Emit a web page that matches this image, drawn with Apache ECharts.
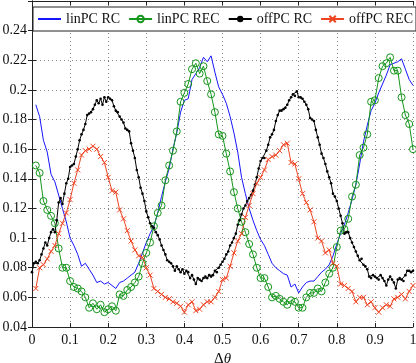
<!DOCTYPE html>
<html>
<head>
<meta charset="utf-8">
<script src="https://cdn.jsdelivr.net/npm/echarts@6/dist/echarts.min.js"></script>
<style>
html,body{margin:0;padding:0;background:#fff;}
#chart{width:416px;height:363px;}
</style>
</head>
<body>
<div id="chart"></div>
<script>
// x grids (sampling of the curves)
const xStart100 = 0.01, xStep100 = 0.01;   // linPC RC, linPC REC, offPC REC
const xStart200 = 0.0,  xStep200 = 0.005;  // offPC RC

const seriesNames = ['linPC RC', 'linPC REC', 'offPC RC', 'offPC REC'];

const linPC_RC = [
 0.190,0.182,0.166,0.158,0.143,0.138,0.129,0.120,0.111,0.100,
 0.095,0.089,0.081,0.083,0.079,0.075,0.070,0.071,0.069,0.070,
 0.068,0.066,0.070,0.071,0.073,0.075,0.077,0.083,0.090,0.097,
 0.103,0.108,0.117,0.128,0.138,0.147,0.160,0.171,0.185,0.193,
 0.194,0.207,0.211,0.215,0.222,0.219,0.223,0.212,0.202,0.197,
 0.191,0.182,0.171,0.158,0.141,0.130,0.120,0.112,0.105,0.099,
 0.095,0.089,0.083,0.080,0.078,0.076,0.075,0.067,0.069,0.063,
 0.067,0.070,0.071,0.071,0.074,0.077,0.079,0.082,0.088,0.096,
 0.103,0.109,0.117,0.126,0.136,0.150,0.165,0.176,0.186,0.191,
 0.198,0.204,0.210,0.217,0.218,0.219,0.221,0.214,0.207,0.203
];

const linPC_REC = [
 0.149,0.144,0.125,0.119,0.115,0.110,0.093,0.080,0.080,0.071,
 0.067,0.066,0.064,0.060,0.053,0.056,0.052,0.055,0.050,0.052,
 0.054,0.051,0.062,0.061,0.065,0.067,0.070,0.074,0.083,0.090,
 0.097,0.108,0.117,0.122,0.139,0.149,0.159,0.172,0.192,0.198,
 0.204,0.214,0.218,0.211,0.216,0.206,0.197,0.185,0.170,0.169,
 0.157,0.145,0.131,0.120,0.111,0.104,0.096,0.089,0.080,0.073,
 0.073,0.067,0.060,0.061,0.059,0.057,0.055,0.058,0.057,0.053,
 0.053,0.060,0.063,0.063,0.066,0.064,0.070,0.076,0.080,0.094,
 0.105,0.106,0.113,0.128,0.136,0.156,0.161,0.170,0.192,0.193,
 0.208,0.216,0.218,0.222,0.213,0.213,0.195,0.183,0.177,0.160
];

const offPC_RC = [
 0.077,0.083,0.084,0.083,0.085,0.089,0.093,0.097,0.095,0.100,
 0.104,0.106,0.104,0.112,0.124,0.127,0.123,0.130,0.137,0.140,
 0.148,0.149,0.150,0.155,0.160,0.166,0.170,0.173,0.177,0.183,
 0.184,0.185,0.187,0.190,0.193,0.191,0.194,0.190,0.195,0.192,
 0.195,0.194,0.193,0.189,0.186,0.185,0.182,0.180,0.178,0.174,
 0.173,0.172,0.164,0.159,0.154,0.146,0.141,0.134,0.130,0.125,
 0.118,0.114,0.110,0.108,0.107,0.104,0.102,0.099,0.095,0.092,
 0.089,0.085,0.084,0.083,0.081,0.078,0.081,0.079,0.077,0.079,
 0.076,0.078,0.077,0.073,0.075,0.072,0.069,0.073,0.072,0.071,
 0.073,0.074,0.073,0.075,0.074,0.075,0.078,0.077,0.080,0.082,
 0.084,0.086,0.089,0.091,0.095,0.097,0.100,0.103,0.109,0.112,
 0.116,0.120,0.122,0.125,0.127,0.129,0.132,0.136,0.141,0.147,
 0.152,0.154,0.154,0.159,0.163,0.168,0.170,0.173,0.179,0.183,
 0.186,0.186,0.187,0.188,0.190,0.193,0.195,0.197,0.196,0.199,
 0.195,0.195,0.194,0.192,0.190,0.187,0.181,0.180,0.179,0.173,
 0.168,0.163,0.157,0.154,0.150,0.145,0.141,0.137,0.130,0.128,
 0.125,0.120,0.115,0.110,0.103,0.104,0.104,0.100,0.097,0.094,
 0.091,0.088,0.085,0.086,0.082,0.081,0.079,0.074,0.073,0.075,
 0.074,0.073,0.072,0.075,0.073,0.071,0.068,0.072,0.074,0.072,
 0.070,0.066,0.072,0.073,0.072,0.071,0.075,0.078,0.078,0.077,
 0.078
];

const offPC_REC = [
 0.066,0.080,0.082,0.086,0.091,0.095,0.103,0.110,0.117,0.126,
 0.137,0.146,0.156,0.159,0.160,0.162,0.160,0.155,0.151,0.141,
 0.132,0.131,0.119,0.113,0.105,0.098,0.092,0.088,0.087,0.080,
 0.075,0.066,0.064,0.062,0.060,0.059,0.057,0.056,0.054,0.050,
 0.055,0.057,0.051,0.052,0.055,0.057,0.057,0.060,0.064,0.072,
 0.073,0.081,0.090,0.098,0.103,0.114,0.122,0.130,0.137,0.141,
 0.146,0.153,0.155,0.156,0.159,0.163,0.164,0.151,0.150,0.140,
 0.130,0.124,0.119,0.111,0.100,0.098,0.090,0.092,0.083,0.081,
 0.069,0.068,0.066,0.064,0.057,0.060,0.060,0.055,0.057,0.053,
 0.050,0.053,0.055,0.054,0.059,0.060,0.062,0.059,0.064,0.068
];

const xTickLabels = ['0','0.1','0.2','0.3','0.4','0.5','0.6','0.7','0.8','0.9','1'];
const yTickLabels = ['0.04','0.06','0.08','0.1','0.12','0.14','0.16','0.18','0.2','0.22','0.24'];

const colors = { blue:'#1515ff', green:'#16961c', black:'#000000', red:'#ee4422' };
const FONT = 'Liberation Serif';

function pairs(ys, x0, dx) {
  return ys.map((y, i) => [+(x0 + i * dx).toFixed(4), y]);
}

const chart = echarts.init(document.getElementById('chart'), null, {renderer:'canvas'});

const axisCommon = {
  axisLine:{show:true, lineStyle:{color:'#222', width:1}},
  axisTick:{show:true, inside:true, length:4, lineStyle:{color:'#222', width:1}},
};

const option = {
  animation:false,
  backgroundColor:'#fff',
  grid:{left:32, right:3, top:1, bottom:36, containLabel:false, outerBoundsMode:'none'},
  legend:{
    left:33, top:7, width:380,
    padding:[5,3,5,4],
    itemGap:8,
    itemWidth:23, itemHeight:8,
    backgroundColor:'#fff',
    borderColor:'#222', borderWidth:1, borderRadius:0,
    textStyle:{fontFamily:FONT, fontSize:14, color:'#111'},
    data: [
      {name:seriesNames[0], itemStyle:{opacity:0}},
      {name:seriesNames[1]},
      {name:seriesNames[2]},
      {name:seriesNames[3]}
    ]
  },
  xAxis:[
    Object.assign({}, axisCommon, {
      type:'value', min:0, max:1, interval:0.1, position:'bottom',
      axisLabel:{fontFamily:FONT, fontSize:14, color:'#111', margin:6,
        formatter:v => xTickLabels[Math.round(v*10)]},
      splitLine:{show:true, lineStyle:{color:'#888', type:[1,3], width:1}},
      name:'{d|Δ}{t|θ}', nameLocation:'middle', nameGap:23,
      nameTextStyle:{rich:{
        d:{fontFamily:FONT, fontSize:15, color:'#111'},
        t:{fontFamily:FONT, fontSize:15, fontStyle:'italic', color:'#111'}
      }}
    }),
    Object.assign({}, axisCommon, {
      type:'value', min:0, max:1, interval:0.1, position:'top',
      axisLabel:{show:false}, splitLine:{show:false}
    })
  ],
  yAxis:[
    Object.assign({}, axisCommon, {
      type:'value', min:0.04, max:0.26, interval:0.02, position:'left',
      axisLabel:{fontFamily:FONT, fontSize:14, color:'#111', margin:5, showMaxLabel:false,
        formatter:v => { const k = Math.round((v-0.04)/0.02); return yTickLabels[k] || ''; }},
      splitLine:{show:true, lineStyle:{color:'#888', type:[1,3], width:1}}
    }),
    Object.assign({}, axisCommon, {
      type:'value', min:0.04, max:0.26, interval:0.02, position:'right',
      axisLabel:{show:false}, splitLine:{show:false}
    })
  ],
  series:[
    {
      name:seriesNames[0], type:'line', data:pairs(linPC_RC, xStart100, xStep100),
      symbol:'none', showSymbol:false,
      lineStyle:{color:colors.blue, width:1},
      itemStyle:{color:colors.blue}
    },
    {
      name:seriesNames[1], type:'line', data:pairs(linPC_REC, xStart100, xStep100),
      symbol:'circle', symbolSize:7, showSymbol:true,
      lineStyle:{color:colors.green, width:1},
      itemStyle:{color:'rgba(255,255,255,0)', borderColor:colors.green, borderWidth:1}
    },
    {
      name:seriesNames[2], type:'line', data:pairs(offPC_RC, xStart200, xStep200),
      symbol:'circle', symbolSize:2.6, showSymbol:true,
      lineStyle:{color:colors.black, width:1},
      itemStyle:{color:colors.black}
    },
    {
      name:seriesNames[3], type:'line', data:pairs(offPC_REC, xStart100, xStep100),
      symbol:'path://M0,0L10,10M10,0L0,10', symbolSize:5, showSymbol:true,
      lineStyle:{color:colors.red, width:1},
      itemStyle:{color:'none', borderColor:colors.red, borderWidth:1}
    }
  ]
};
chart.setOption(option);
</script>
</body>
</html>
